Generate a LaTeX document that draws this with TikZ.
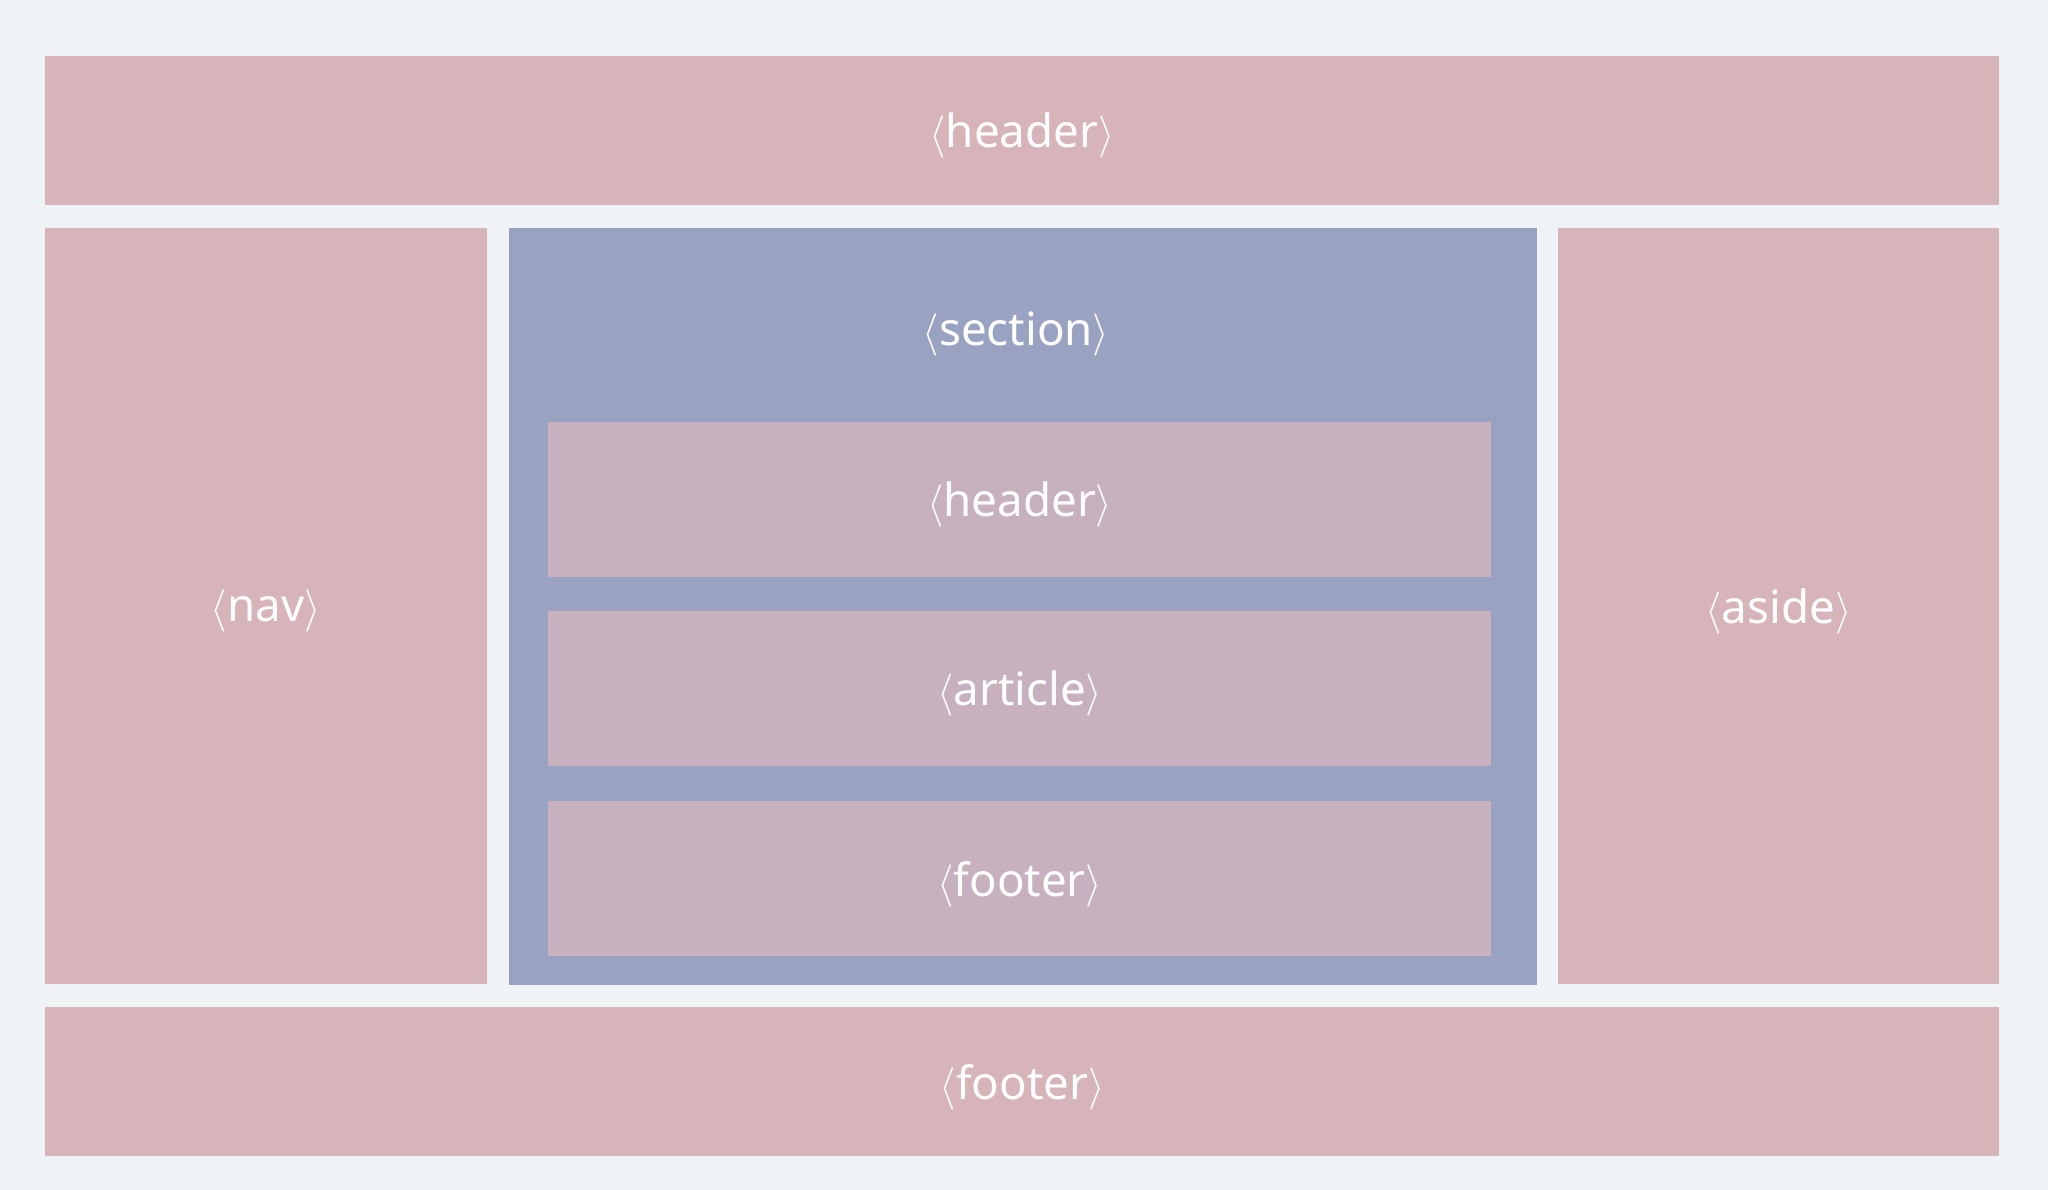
\documentclass[tikz,border=0pt]{standalone}
\usepackage{fontspec}
\setmainfont{Noto Sans}
\usepackage{tikz}
\usetikzlibrary{positioning}

\definecolor{pagebg}{HTML}{EFF3F5}
\definecolor{pinkfill}{HTML}{D7B4B9}
\definecolor{bluefill}{HTML}{99A3C1}
\definecolor{innerfill}{HTML}{C7B1BE}

\newcommand{\tagname}[1]{$\langle$#1$\rangle$}

\begin{document}
\begin{tikzpicture}[
    font=\fontsize{13}{15}\selectfont,
    box/.style={rectangle, fill=#1, inner sep=0pt, text=white, align=center, text depth=0pt},
    pinkbox/.style={box=pinkfill},
    innerbox/.style={box=innerfill, minimum width=9.43cm, minimum height=1.55cm},
    tag/.style={text=white, inner sep=0pt},
]
    \fill[pagebg] (0,0) rectangle (20.48,-11.9);
    \useasboundingbox (0,0) rectangle (20.48,-11.9);

    % outer layout
    \node[pinkbox, minimum width=19.54cm, minimum height=1.49cm, anchor=north west] (header) at (0.444,-0.549) {\tagname{header}};
    \node[pinkbox, minimum width=4.415cm, minimum height=7.56cm, below right=0.22cm and 0cm of header.south west] (nav) {\tagname{nav}};
    \node[box=bluefill, minimum width=10.28cm, minimum height=7.565cm, below right=0cm and 0.21cm of nav.north east] (section) {};
    \node[pinkbox, minimum width=4.41cm, minimum height=7.56cm, below right=0cm and 0.195cm of section.north east] (aside) {\tagname{aside}};
    \node[pinkbox, minimum width=19.54cm, minimum height=1.49cm, below right=0.22cm and 0cm of nav.south west] (footer) {\tagname{footer}};

    % inside the section
    \node[tag] (sectionlabel) at ([xshift=-0.07cm, yshift=-1.07cm]section.north) {\tagname{section}};
    \node[innerbox, below right=1.936cm and 0.392cm of section.north west] (iheader) {\tagname{header}};
    \node[innerbox, below=0.33cm of iheader] (iarticle) {\tagname{article}};
    \node[innerbox, below=0.34cm of iarticle] (ifooter) {\tagname{footer}};
\end{tikzpicture}
\end{document}
